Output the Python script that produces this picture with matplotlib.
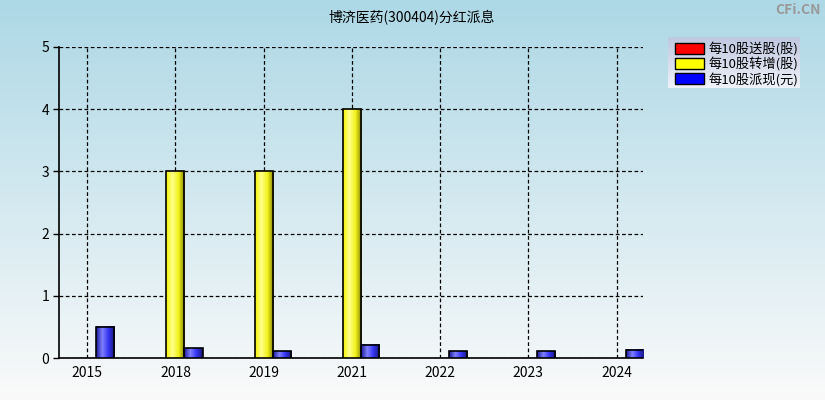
import numpy as np
import matplotlib
matplotlib.use("Agg")
import matplotlib.pyplot as plt
from matplotlib.patches import Patch
from matplotlib.colors import LinearSegmentedColormap

plt.rcParams['font.family'] = ['Noto Sans CJK SC', 'DejaVu Sans']

years = ['2015', '2018', '2019', '2021', '2022', '2023', '2024']
song = [0, 0, 0, 0, 0, 0, 0]          # 每10股送股(股)
zhuan = [0, 3, 3, 4, 0, 0, 0]         # 每10股转增(股)
pai = [0.5, 0.16, 0.11, 0.21, 0.11, 0.11, 0.13]  # 每10股派现(元)
series_names = ['每10股送股(股)', '每10股转增(股)', '每10股派现(元)']
title = '博济医药(300404)分红派息'

W, H = 825, 400
fig = plt.figure(figsize=(W / 100, H / 100), dpi=100)

# background gradient
bg = fig.add_axes([0, 0, 1, 1], zorder=-10)
bg.axis('off')
top_c = np.array([173, 216, 230]) / 255
bot_c = np.array([250, 250, 250]) / 255
t = np.linspace(0, 1, 256)[:, None]
grad = top_c[None, :] * (1 - t) + bot_c[None, :] * t
bg.imshow(grad[:, None, :], aspect='auto', extent=[0, 1, 0, 1])
bg.set_xlim(0, 1); bg.set_ylim(0, 1)

ax = fig.add_axes([59 / W, 1 - 358 / H, (643 - 59) / W, (358 - 47) / H])
ax.patch.set_alpha(0)

x = np.arange(len(years))
bw = 0.205
cmaps = [
    LinearSegmentedColormap.from_list('r', [(0.6, 0, 0), (1, 0.5, 0.5), (1, 0, 0), (0.5, 0, 0)]),
    LinearSegmentedColormap.from_list('y', [(0.95, 0.95, 0.0), (1, 1, 0.55), (0.95, 0.95, 0.1), (0.5, 0.5, 0.05)]),
    LinearSegmentedColormap.from_list('b', [(0.1, 0.1, 0.6), (0.5, 0.5, 1.0), (0.2, 0.2, 0.95), (0.1, 0.1, 0.45)]),
]
base_colors = ['#ff0000', '#ffff00', '#0000ff']
gx = np.linspace(0, 1, 64)[None, :]
for i, vals in enumerate([song, zhuan, pai]):
    bars = ax.bar(x + (i - 1) * bw, vals, width=bw, facecolor='none',
                  edgecolor='black', linewidth=1.2, zorder=4)
    for b, v in zip(bars, vals):
        if v <= 0:
            b.set_visible(False)
            continue
        ax.imshow(gx, cmap=cmaps[i], aspect='auto', zorder=3,
                  extent=[b.get_x(), b.get_x() + b.get_width(), 0, v])

ax.set_xlim(-0.32, 6.3)
ax.set_ylim(0, 5)
ax.set_xticks(x)
ax.set_xticklabels(years)
ax.set_yticks(range(6))
ax.grid(True, color='black', linestyle=(0, (3, 2)), linewidth=0.9, zorder=1)
ax.set_axisbelow(True)
for s in ['top', 'right']:
    ax.spines[s].set_visible(False)
ax.spines['left'].set_linewidth(1.2)
ax.spines['bottom'].set_linewidth(1.2)
ax.tick_params(axis='y', length=4, width=1, labelsize=10, pad=3)
ax.tick_params(axis='x', length=0, labelsize=10, pad=6)

fig.text(0.5 * (59 + 825) / W * 0 + 412 / W, 1 - 18 / H, title, ha='center', va='center', fontsize=10)
fig.text(1 - 4 / W, 1 - 10 / H, 'CFi.CN', ha='right', va='center', fontsize=10,
         color='#999999', fontweight='bold')

# legend background gradient
lx0, lx1, ly0, ly1 = 668 / W, 800 / W, 1 - 88 / H, 1 - 37 / H
lax = fig.add_axes([lx0, ly0, lx1 - lx0, ly1 - ly0], zorder=5)
lax.axis('off')
lt = np.array([190, 200, 225]) / 255
lb = np.array([240, 242, 248]) / 255
lgrad = lt[None, :] * (1 - t) + lb[None, :] * t
lax.imshow(lgrad[:, None, :], aspect='auto', extent=[0, 1, 0, 1])
lax.set_xlim(0, 1); lax.set_ylim(0, 1)

handles = [Patch(facecolor=c, edgecolor='black', linewidth=1) for c in base_colors]
leg = fig.legend(handles, series_names, loc='upper left',
                 bbox_to_anchor=(lx0, ly1 + 2 / H), frameon=False, fontsize=9.5,
                 handlelength=2.2, handleheight=0.9, handletextpad=0.4,
                 labelspacing=0.1, borderpad=0.5, borderaxespad=0)
leg.set_zorder(6)

fig.savefig('out.png', dpi=100)
